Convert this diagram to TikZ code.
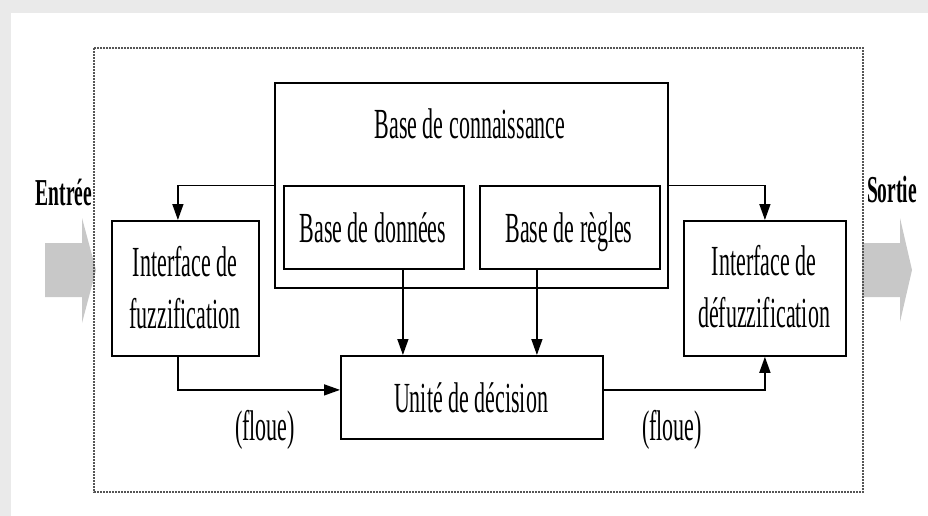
\documentclass[tikz,border=0pt]{standalone}
\usepackage{fontspec}
\setmainfont{Liberation Serif}
\usepackage{graphicx}
\usetikzlibrary{arrows.meta}

% condensed look of the lettering: stretch text vertically
\newcommand\talltext[1]{\scalebox{1}[1.95]{#1}}
\newcommand\twolines[2]{\talltext{\begin{tabular}[t]{@{}c@{}}#1\\#2\end{tabular}}}

\definecolor{pageedge}{RGB}{234,234,234}
\definecolor{bigarrow}{RGB}{200,200,200}
\definecolor{framegray}{RGB}{85,85,85}

\tikzset{
  block/.style={draw=black, line width=1.8pt, rectangle, inner sep=0pt, anchor=north west},
  lbl/.style={inner sep=0pt, anchor=base, font=\fontsize{22}{26.7}\selectfont},
  io/.style={inner sep=0pt, anchor=base, font=\bfseries\fontsize{19.5}{23}\selectfont},
  flow/.style={draw=black, line width=1.5pt, -{Triangle[length=16pt,width=11pt]}},
  outer/.style={draw=framegray, line width=1.6pt, dash pattern=on 1.6pt off 1.4pt}
}

\begin{document}
\begin{tikzpicture}[x=1pt, y=-1pt]
  % page and its grey edge
  \useasboundingbox (0,0) rectangle (928,516);
  \fill[white] (0,0) rectangle (928,516);
  \fill[pageedge] (0,0) rectangle (928,13);
  \fill[pageedge] (0,0) rectangle (11,516);

  % wide input / output arrows
  \fill[bigarrow] (45,243) -- (82,243) -- (82,218) -- (96,270) -- (82,323)
                  -- (82,297) -- (45,297) -- cycle;
  \fill[bigarrow] (862,243) -- (900,243) -- (900,218) -- (912,270) -- (900,322)
                  -- (900,297) -- (862,297) -- cycle;

  % system boundary
  \draw[outer] (94,48) rectangle (863,492);

  % blocks
  \node[block, minimum width=393pt, minimum height=205pt] (know) at (274,82) {};
  \node[block, minimum width=180pt, minimum height=83pt] (bdd) at (283,185) {};
  \node[block, minimum width=180pt, minimum height=83pt] (bdr) at (479,185) {};
  \node[block, minimum width=147pt, minimum height=135pt] (fuzz) at (111,220) {};
  \node[block, minimum width=162pt, minimum height=135pt] (defuzz) at (683,220) {};
  \node[block, minimum width=262pt, minimum height=83pt] (dec) at (340,355) {};

  % connectors
  \draw[flow] (know.west) -| ([xshift=-7.5pt]fuzz.north);
  \draw[flow] (know.east) -| (defuzz.north);
  \draw[flow] ([xshift=-7.5pt]fuzz.south) |- ([yshift=7.5pt]dec.west);
  \draw[flow] ([yshift=7.5pt]dec.east) -| (defuzz.south);
  \draw[flow] ([xshift=29pt]bdd.south) -- ([xshift=29pt]bdd.south |- dec.north);
  \draw[flow] ([xshift=-33pt]bdr.south) -- ([xshift=-33pt]bdr.south |- dec.north);

  % labels
  \node[lbl] (tknow) at (470,138) {\talltext{Base de connaissance}};
  \node[lbl] (tbdd) at (373,242) {\talltext{Base de données}};
  \node[lbl] (tbdr) at (569,242) {\talltext{Base de règles}};
  \node[lbl] (tfuzz) at (185,276) {\twolines{Interface de}{fuzzification}};
  \node[lbl] (tdefuzz) at (764,275) {\twolines{Interface de}{défuzzification}};
  \node[lbl] (tdec) at (471,412) {\talltext{Unité de décision}};
  \node[lbl] (tfl1) at (265,440) {\talltext{(floue)}};
  \node[lbl] (tfl2) at (672,440) {\talltext{(floue)}};
  \node[io] (tin) at (64,205) {\talltext{Entrée}};
  \node[io] (tout) at (892,202) {\talltext{Sortie}};
\end{tikzpicture}
\end{document}
